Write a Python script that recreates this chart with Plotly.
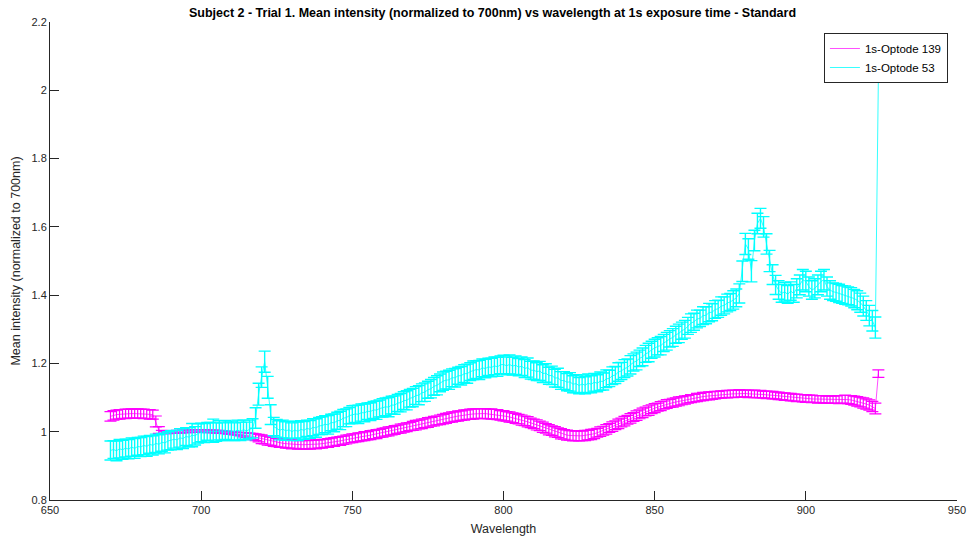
import plotly.graph_objects as go

# Wavelength grid (nm) shared by both optodes
wavelength = list(range(670, 925))

# Optode 139 mean intensity, normalized to 700 nm
optode_139 = [
    1.045, 1.048, 1.050, 1.051, 1.052, 1.052, 1.053, 1.053, 1.053, 1.053,
    1.053, 1.052, 1.052, 1.051, 1.050, 1.030, 1.005, 0.999, 0.998, 0.998,
    0.999, 0.999, 1.000, 1.000, 1.001, 1.001, 1.001, 1.002, 1.002, 1.002,
    1.002, 1.002, 1.001, 1.001, 1.001, 1.000, 1.000, 0.999, 0.998, 0.997,
    0.996, 0.995, 0.994, 0.993, 0.991, 0.990, 0.988, 0.986, 0.984, 0.981,
    0.978, 0.976, 0.974, 0.972, 0.970, 0.968, 0.967, 0.966, 0.965, 0.964,
    0.963, 0.963, 0.962, 0.962, 0.962, 0.962, 0.962, 0.963, 0.963, 0.964,
    0.965, 0.966, 0.967, 0.969, 0.970, 0.972, 0.973, 0.975, 0.977, 0.979,
    0.981, 0.982, 0.984, 0.985, 0.987, 0.988, 0.990, 0.992, 0.993, 0.995,
    0.997, 0.999, 1.001, 1.003, 1.005, 1.007, 1.009, 1.011, 1.013, 1.015,
    1.017, 1.019, 1.021, 1.023, 1.025, 1.027, 1.029, 1.031, 1.033, 1.035,
    1.037, 1.039, 1.041, 1.043, 1.044, 1.046, 1.047, 1.049, 1.050, 1.051,
    1.052, 1.053, 1.053, 1.053, 1.053, 1.052, 1.052, 1.051, 1.050, 1.048,
    1.047, 1.045, 1.043, 1.041, 1.039, 1.037, 1.034, 1.032, 1.029, 1.026,
    1.023, 1.020, 1.017, 1.013, 1.010, 1.006, 1.003, 1.000, 0.997, 0.994,
    0.992, 0.990, 0.989, 0.988, 0.988, 0.988, 0.988, 0.989, 0.990, 0.992,
    0.994, 0.997, 1.000, 1.003, 1.007, 1.011, 1.015, 1.019, 1.023, 1.027,
    1.031, 1.035, 1.039, 1.043, 1.047, 1.051, 1.055, 1.059, 1.062, 1.066,
    1.069, 1.072, 1.075, 1.078, 1.081, 1.083, 1.085, 1.087, 1.089, 1.091,
    1.093, 1.095, 1.097, 1.098, 1.100, 1.101, 1.103, 1.104, 1.105, 1.106,
    1.107, 1.108, 1.109, 1.110, 1.110, 1.111, 1.111, 1.111, 1.112, 1.112,
    1.112, 1.111, 1.111, 1.111, 1.110, 1.110, 1.109, 1.108, 1.108, 1.107,
    1.106, 1.105, 1.104, 1.103, 1.102, 1.101, 1.100, 1.099, 1.099, 1.098,
    1.097, 1.097, 1.096, 1.096, 1.095, 1.095, 1.095, 1.094, 1.094, 1.094,
    1.094, 1.094, 1.095, 1.095, 1.094, 1.093, 1.091, 1.089, 1.087, 1.084,
    1.081, 1.078, 1.074, 1.068, 1.170,
]

# Standard deviation of Optode 139
optode_139_err = [
    0.014, 0.014, 0.013, 0.014, 0.013, 0.014, 0.013, 0.014, 0.013, 0.014,
    0.013, 0.014, 0.013, 0.014, 0.013, 0.016, 0.010, 0.005, 0.004, 0.004,
    0.004, 0.004, 0.004, 0.004, 0.004, 0.004, 0.004, 0.004, 0.004, 0.004,
    0.004, 0.004, 0.004, 0.004, 0.004, 0.004, 0.004, 0.004, 0.004, 0.004,
    0.004, 0.004, 0.004, 0.005, 0.006, 0.007, 0.008, 0.009, 0.010, 0.011,
    0.013, 0.012, 0.013, 0.012, 0.013, 0.012, 0.013, 0.012, 0.013, 0.012,
    0.013, 0.012, 0.013, 0.012, 0.013, 0.012, 0.013, 0.012, 0.013, 0.012,
    0.013, 0.012, 0.013, 0.012, 0.013, 0.012, 0.013, 0.012, 0.013, 0.012,
    0.013, 0.012, 0.013, 0.012, 0.013, 0.012, 0.013, 0.012, 0.013, 0.012,
    0.013, 0.012, 0.013, 0.012, 0.013, 0.012, 0.013, 0.012, 0.013, 0.012,
    0.013, 0.014, 0.013, 0.014, 0.013, 0.014, 0.013, 0.014, 0.013, 0.014,
    0.014, 0.015, 0.014, 0.015, 0.014, 0.015, 0.014, 0.015, 0.014, 0.015,
    0.015, 0.014, 0.015, 0.014, 0.015, 0.014, 0.015, 0.014, 0.015, 0.014,
    0.015, 0.014, 0.015, 0.014, 0.015, 0.014, 0.015, 0.014, 0.015, 0.014,
    0.014, 0.015, 0.014, 0.015, 0.014, 0.015, 0.014, 0.015, 0.014, 0.015,
    0.014, 0.015, 0.014, 0.015, 0.014, 0.015, 0.014, 0.015, 0.014, 0.015,
    0.014, 0.013, 0.014, 0.013, 0.014, 0.013, 0.014, 0.013, 0.014, 0.013,
    0.014, 0.013, 0.014, 0.013, 0.014, 0.013, 0.014, 0.013, 0.014, 0.013,
    0.013, 0.012, 0.013, 0.012, 0.013, 0.012, 0.013, 0.012, 0.013, 0.012,
    0.012, 0.011, 0.012, 0.011, 0.012, 0.011, 0.012, 0.011, 0.012, 0.011,
    0.011, 0.010, 0.011, 0.010, 0.011, 0.010, 0.011, 0.010, 0.011, 0.010,
    0.010, 0.011, 0.010, 0.011, 0.010, 0.011, 0.010, 0.011, 0.010, 0.011,
    0.010, 0.011, 0.010, 0.011, 0.010, 0.011, 0.010, 0.011, 0.010, 0.011,
    0.011, 0.010, 0.011, 0.010, 0.011, 0.010, 0.011, 0.010, 0.011, 0.010,
    0.011, 0.012, 0.011, 0.012, 0.012, 0.013, 0.013, 0.014, 0.014, 0.015,
    0.015, 0.015, 0.015, 0.016, 0.011,
]

# Optode 53 mean intensity, normalized to 700 nm
optode_53 = [
    0.945, 0.948, 0.944, 0.950, 0.947, 0.952, 0.949, 0.955, 0.951, 0.957,
    0.955, 0.960, 0.957, 0.963, 0.960, 0.966, 0.963, 0.969, 0.967, 0.973,
    0.975, 0.978, 0.976, 0.982, 0.980, 0.986, 0.984, 0.990, 0.988, 0.995,
    0.998, 0.996, 1.001, 0.998, 1.003, 0.999, 1.004, 1.000, 1.005, 1.001,
    1.003, 1.000, 1.005, 1.001, 1.006, 1.002, 1.007, 1.010, 1.040, 1.110,
    1.160, 1.205, 1.130, 1.050, 1.015, 1.010, 1.004, 1.008, 1.002, 1.006,
    1.000, 1.005, 1.001, 1.007, 1.004, 1.010, 1.007, 1.013, 1.011, 1.017,
    1.018, 1.022, 1.020, 1.027, 1.026, 1.032, 1.033, 1.040, 1.041, 1.047,
    1.050, 1.052, 1.051, 1.056, 1.055, 1.060, 1.059, 1.064, 1.063, 1.068,
    1.070, 1.073, 1.072, 1.078, 1.078, 1.084, 1.085, 1.091, 1.092, 1.098,
    1.100, 1.106, 1.107, 1.114, 1.116, 1.123, 1.126, 1.133, 1.136, 1.143,
    1.148, 1.151, 1.152, 1.158, 1.158, 1.164, 1.164, 1.170, 1.170, 1.176,
    1.180, 1.182, 1.181, 1.187, 1.185, 1.190, 1.188, 1.193, 1.190, 1.196,
    1.197, 1.193, 1.197, 1.192, 1.195, 1.189, 1.192, 1.185, 1.188, 1.180,
    1.180, 1.176, 1.178, 1.170, 1.172, 1.164, 1.165, 1.157, 1.158, 1.150,
    1.150, 1.145, 1.146, 1.139, 1.141, 1.135, 1.140, 1.136, 1.142, 1.139,
    1.145, 1.142, 1.148, 1.147, 1.155, 1.156, 1.164, 1.166, 1.175, 1.178,
    1.185, 1.188, 1.196, 1.203, 1.207, 1.215, 1.219, 1.228, 1.232, 1.240,
    1.245, 1.250, 1.252, 1.260, 1.265, 1.272, 1.276, 1.284, 1.288, 1.296,
    1.300, 1.310, 1.318, 1.322, 1.330, 1.332, 1.340, 1.341, 1.349, 1.350,
    1.358, 1.360, 1.368, 1.370, 1.377, 1.380, 1.386, 1.392, 1.405, 1.470,
    1.550, 1.535, 1.470, 1.560, 1.610, 1.625, 1.600, 1.550, 1.500, 1.460,
    1.430, 1.415, 1.405, 1.410, 1.402, 1.412, 1.405, 1.420, 1.430, 1.445,
    1.440, 1.425, 1.415, 1.420, 1.430, 1.440, 1.445, 1.425, 1.415, 1.410,
    1.408, 1.405, 1.402, 1.400, 1.398, 1.395, 1.390, 1.385, 1.378, 1.368,
    1.355, 1.340, 1.325, 1.305, 2.040,
]

# Standard deviation of Optode 53
optode_53_err = [
    0.028, 0.026, 0.029, 0.027, 0.028, 0.026, 0.028, 0.027, 0.029, 0.026,
    0.028, 0.027, 0.029, 0.026, 0.028, 0.027, 0.028, 0.026, 0.029, 0.027,
    0.028, 0.026, 0.028, 0.027, 0.029, 0.026, 0.028, 0.034, 0.027, 0.028,
    0.027, 0.028, 0.026, 0.029, 0.034, 0.027, 0.028, 0.026, 0.028, 0.027,
    0.028, 0.026, 0.029, 0.027, 0.028, 0.026, 0.027, 0.028, 0.030, 0.032,
    0.030, 0.031, 0.032, 0.029, 0.027, 0.026, 0.028, 0.026, 0.027, 0.025,
    0.026, 0.025, 0.027, 0.025, 0.026, 0.024, 0.026, 0.025, 0.027, 0.025,
    0.026, 0.025, 0.027, 0.024, 0.026, 0.025, 0.027, 0.025, 0.026, 0.024,
    0.026, 0.025, 0.027, 0.025, 0.026, 0.024, 0.026, 0.025, 0.027, 0.025,
    0.027, 0.026, 0.028, 0.026, 0.027, 0.025, 0.027, 0.026, 0.028, 0.026,
    0.027, 0.026, 0.028, 0.026, 0.027, 0.025, 0.027, 0.026, 0.028, 0.026,
    0.027, 0.026, 0.028, 0.026, 0.027, 0.025, 0.027, 0.026, 0.028, 0.026,
    0.027, 0.026, 0.028, 0.026, 0.027, 0.025, 0.027, 0.026, 0.028, 0.026,
    0.027, 0.026, 0.028, 0.026, 0.027, 0.025, 0.027, 0.026, 0.028, 0.026,
    0.027, 0.026, 0.028, 0.026, 0.027, 0.025, 0.027, 0.026, 0.028, 0.026,
    0.026, 0.025, 0.027, 0.025, 0.026, 0.024, 0.026, 0.025, 0.027, 0.025,
    0.026, 0.025, 0.027, 0.025, 0.026, 0.024, 0.026, 0.025, 0.027, 0.025,
    0.026, 0.025, 0.027, 0.025, 0.026, 0.024, 0.026, 0.025, 0.027, 0.025,
    0.026, 0.025, 0.027, 0.025, 0.026, 0.024, 0.026, 0.025, 0.027, 0.025,
    0.026, 0.025, 0.027, 0.025, 0.026, 0.024, 0.026, 0.025, 0.027, 0.025,
    0.026, 0.025, 0.027, 0.025, 0.026, 0.025, 0.027, 0.026, 0.028, 0.030,
    0.031, 0.030, 0.031, 0.030, 0.030, 0.029, 0.030, 0.030, 0.031, 0.029,
    0.028, 0.027, 0.026, 0.027, 0.026, 0.027, 0.026, 0.028, 0.029, 0.030,
    0.030, 0.028, 0.027, 0.028, 0.029, 0.030, 0.030, 0.028, 0.027, 0.026,
    0.026, 0.027, 0.026, 0.027, 0.026, 0.027, 0.027, 0.028, 0.028, 0.029,
    0.029, 0.030, 0.030, 0.031, 0.010,
]

x_tick_vals = [650, 700, 750, 800, 850, 900, 950]
y_tick_vals = [0.8, 1.0, 1.2, 1.4, 1.6, 1.8, 2.0, 2.2]
y_tick_labels = ["0.8", "1", "1.2", "1.4", "1.6", "1.8", "2", "2.2"]

MAGENTA = "#FF00FF"
CYAN = "#00FFFF"
AXIS_GREY = "#262626"
FONT = "Liberation Sans, Arial, sans-serif"

fig = go.Figure()

# Optode 139 drawn first so Optode 53 sits on top of it
fig.add_trace(go.Scatter(
    x=wavelength, y=optode_139, mode="lines", name="1s-Optode 139",
    line=dict(color=MAGENTA, width=0.7),
    error_y=dict(type="data", array=optode_139_err, visible=True,
                 color=MAGENTA, thickness=1.2, width=6),
))
fig.add_trace(go.Scatter(
    x=wavelength, y=optode_53, mode="lines", name="1s-Optode 53",
    line=dict(color=CYAN, width=0.8),
    error_y=dict(type="data", array=optode_53_err, visible=True,
                 color=CYAN, thickness=1.4, width=6),
))

axis_common = dict(
    automargin=False,
    showgrid=False, zeroline=False, showline=True, linecolor=AXIS_GREY,
    linewidth=1, mirror=False, ticks="inside", ticklen=9, tickwidth=1,
    tickcolor=AXIS_GREY, tickfont=dict(family=FONT, size=11, color=AXIS_GREY),
)

fig.update_layout(
    width=970, height=542,
    margin=dict(l=50, r=13, t=22, b=42),
    paper_bgcolor="white", plot_bgcolor="white",
    font=dict(family=FONT, color=AXIS_GREY),
    title=dict(
        text="<b>Subject 2 - Trial 1. Mean intensity (normalized to 700nm) vs wavelength at 1s exposure time - Standard</b>",
        x=0.5077, xanchor="center", xref="container",
        y=0.976, yanchor="middle", yref="container",
        font=dict(family=FONT, size=12.5, color="black"),
    ),
    xaxis=dict(
        range=[650, 950], tickvals=x_tick_vals,
        title=dict(text="Wavelength", font=dict(family=FONT, size=12.5, color=AXIS_GREY), standoff=9),
        **axis_common,
    ),
    yaxis=dict(
        range=[0.8, 2.2], tickvals=y_tick_vals, ticktext=y_tick_labels,
        title=dict(text="Mean intensity (normalized to 700nm)", font=dict(family=FONT, size=12.5, color=AXIS_GREY), standoff=8),
        **axis_common,
    ),
    legend=dict(
        x=0.990, xanchor="right", y=0.977, yanchor="top",
        bgcolor="white", bordercolor=AXIS_GREY, borderwidth=1,
        font=dict(family=FONT, size=11.5, color="black"),
        tracegroupgap=0,
    ),
    showlegend=True,
)

fig.write_html("out.html")
